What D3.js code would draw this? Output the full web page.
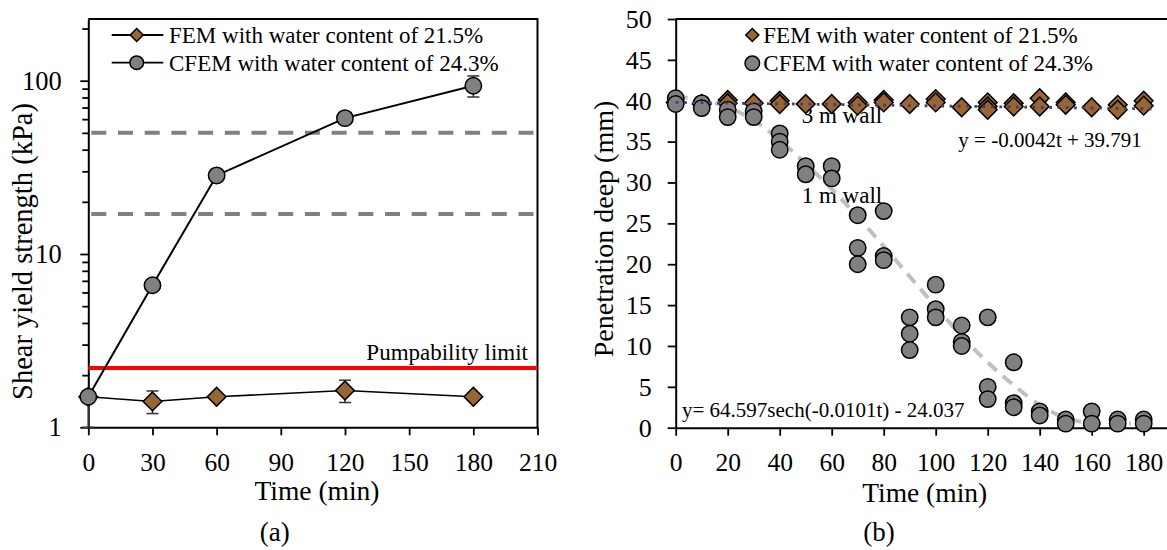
<!DOCTYPE html>
<html>
<head>
<meta charset="utf-8">
<script src="https://cdn.jsdelivr.net/npm/d3@7"></script>
<style>
  body { margin: 0; background: #fff; }
  svg { font-family: "Liberation Serif", "Times New Roman", serif; }
</style>
</head>
<body>
<script>
// ---------- (a) shear yield strength vs time ----------
var timeA = [0, 30, 60, 120, 180];
var femA = [1.5, 1.41, 1.5, 1.63, 1.5];
var femAErr = [0, 0.21, 0, 0.24, 0];
var cfemA = [1.5, 6.6, 28.4, 60.8, 93.5];
var cfemAErrLo = [0.5, 0, 0, 0, 13];
var cfemAErrHi = [0, 0, 0, 0, 13];
var refLinesA = [50, 17];
var pumpLimit = 2.2;
var xTicksA = [0, 30, 60, 90, 120, 150, 180, 210];
var yMajorA = [1, 10, 100];
var yMinorA = [2, 3, 4, 5, 6, 7, 8, 9, 20, 30, 40, 50, 60, 70, 80, 90, 200];

// ---------- (b) penetration depth vs time ----------
var femBTime = [0, 10, 20, 20, 30, 40, 40, 50, 60, 70, 70, 80, 80, 90, 100, 100, 110,
  120, 120, 120, 130, 130, 140, 140, 150, 150, 160, 170, 170, 180, 180];
var femBDepth = [39.8, 39.6, 40.1, 39.7, 39.7, 40.0, 39.6, 39.6, 39.6, 39.8, 39.4, 40.1, 39.8, 39.6, 40.2, 39.8, 39.2,
  39.8, 39.3, 38.9, 39.7, 39.3, 40.3, 39.3, 39.8, 39.5, 39.2, 39.5, 38.9, 40.0, 39.4];
var cfemBTime = [0, 0, 10, 10, 20, 20, 30, 30, 40, 40, 40, 50, 50, 60, 60, 70, 70, 70, 80, 80, 80,
  90, 90, 90, 100, 100, 100, 110, 110, 110, 120, 120, 120, 130, 130, 130, 140, 140, 150, 150,
  160, 160, 170, 170, 180, 180];
var cfemBDepth = [40.3, 39.6, 39.7, 39.1, 38.9, 38.0, 38.7, 38.0, 36, 35, 34, 32, 31, 32, 30.5, 26, 22, 20, 26.5, 21, 20.5,
  13.5, 11.5, 9.5, 17.5, 14.5, 13.5, 12.5, 10.5, 10, 13.5, 5, 3.5, 8, 3, 2.5, 2, 1.5, 1, 0.5,
  2, 0.5, 1, 0.5, 1, 0.5];
var linFitT = [0, 185];
var linFitY = [39.8, 39.0];
var curveFitT = [0, 10, 20, 30, 40, 50, 60, 70, 80, 90, 100, 110, 120, 130, 140, 150, 160, 170, 175];
var curveFitY = [40.5, 40.1, 39.2, 37.6, 35.2, 32.3, 29.2, 25.8, 22.2, 18.5, 14.8, 11.2, 8.0, 5.2, 2.8, 1.2, 0.6, 0.5, 0.5];
var xTicksB = [0, 20, 40, 60, 80, 100, 120, 140, 160, 180];
var yTicksB = [0, 5, 10, 15, 20, 25, 30, 35, 40, 45, 50];

var legendLabels = ["FEM with water content of 21.5%", "CFEM with water content of 24.3%"];

var brown = "#9a6534", grey = "#808080";
var font = "Liberation Serif, Times New Roman, serif";

var svg = d3.select("body").append("svg")
    .attr("width", 1167)
    .attr("height", 550);

var diamond = function(size) {
  return d3.symbol().type(d3.symbolSquare).size(size)();
};

function styleAxis(g, fs) {
  g.attr("font-family", font).attr("font-size", fs);
  g.selectAll("path.domain").attr("stroke-width", 2);
  g.selectAll(".tick line").attr("stroke-width", 1.8);
  g.selectAll(".tick text").attr("fill", "#000");
}

// ================= chart (a) =================
var xA = d3.scaleLinear().domain([0, 210]).range([88.3, 537.5]);
var yA = d3.scaleLog().domain([1, 227]).range([427.3, 19]);

var gA = svg.append("g");

gA.append("g")
    .attr("transform", "translate(0,427.3)")
    .call(d3.axisBottom(xA).tickValues(xTicksA).tickSizeInner(8).tickSizeOuter(0).tickPadding(17.5))
    .call(styleAxis, 25.5);

gA.append("g")
    .attr("transform", "translate(88.3,0)")
    .call(d3.axisLeft(yA).tickValues(yMinorA).tickFormat("").tickSizeInner(6).tickSizeOuter(0))
    .call(styleAxis, 26)
    .select("path.domain").remove();

gA.append("g")
    .attr("transform", "translate(88.3,0)")
    .call(d3.axisLeft(yA).tickValues(yMajorA).tickFormat(d3.format("d")).tickSizeInner(8).tickSizeOuter(0).tickPadding(18.6))
    .call(styleAxis, 26.5);

// box top/right
gA.append("path")
    .attr("d", "M" + xA(0) + "," + yA(227) + "H" + xA(210) + "V" + yA(1))
    .attr("fill", "none").attr("stroke", "#000").attr("stroke-width", 2);

// reference dashed lines
gA.selectAll(".ref").data(refLinesA).enter().append("line")
    .attr("x1", xA(0) + 1).attr("x2", xA(210))
    .attr("y1", function(d) { return yA(d); })
    .attr("y2", function(d) { return yA(d); })
    .attr("stroke", grey).attr("stroke-width", 4)
    .attr("stroke-dasharray", "15,11.7")
    .attr("stroke-dashoffset", -2);

// pumpability limit
gA.append("line")
    .attr("x1", xA(0)).attr("x2", xA(210))
    .attr("y1", yA(pumpLimit)).attr("y2", yA(pumpLimit))
    .attr("stroke", "#ff0000").attr("stroke-width", 4);
gA.append("text")
    .attr("x", 528).attr("y", 360)
    .attr("text-anchor", "end")
    .attr("font-size", 23)
    .text("Pumpability limit");

var lineA = d3.line()
    .x(function(d) { return xA(d.t); })
    .y(function(d) { return yA(d.v); });

var femData = timeA.map(function(t, i) { return {t: t, v: femA[i], lo: femA[i] - femAErr[i], hi: femA[i] + femAErr[i]}; });
var cfemData = timeA.map(function(t, i) { return {t: t, v: cfemA[i], lo: cfemA[i] - cfemAErrLo[i], hi: cfemA[i] + cfemAErrHi[i]}; });

function errorBars(g, data) {
  var eb = g.selectAll(null).data(data.filter(function(d) { return d.hi > d.lo; }))
    .enter().append("g").attr("stroke", "#333").attr("stroke-width", 1.5);
  eb.append("line")
    .attr("x1", function(d) { return xA(d.t); }).attr("x2", function(d) { return xA(d.t); })
    .attr("y1", function(d) { return yA(d.lo); }).attr("y2", function(d) { return yA(d.hi); });
  eb.append("line")
    .attr("x1", function(d) { return xA(d.t) - 6; }).attr("x2", function(d) { return xA(d.t) + 6; })
    .attr("y1", function(d) { return yA(d.lo); }).attr("y2", function(d) { return yA(d.lo); });
  eb.append("line")
    .attr("x1", function(d) { return xA(d.t) - 6; }).attr("x2", function(d) { return xA(d.t) + 6; })
    .attr("y1", function(d) { return yA(d.hi); }).attr("y2", function(d) { return yA(d.hi); });
}

errorBars(gA, femData);
gA.append("path").datum(femData)
    .attr("d", lineA).attr("fill", "none").attr("stroke", "#000").attr("stroke-width", 1.6);
gA.selectAll(".femA").data(femData).enter().append("path")
    .attr("d", diamond(175))
    .attr("transform", function(d) { return "translate(" + xA(d.t) + "," + yA(d.v) + ") rotate(45)"; })
    .attr("fill", brown).attr("stroke", "#000").attr("stroke-width", 1.5);

errorBars(gA, cfemData);
gA.append("path").datum(cfemData)
    .attr("d", lineA).attr("fill", "none").attr("stroke", "#000").attr("stroke-width", 2);
gA.selectAll(".cfemA").data(cfemData).enter().append("circle")
    .attr("cx", function(d) { return xA(d.t); })
    .attr("cy", function(d) { return yA(d.v); })
    .attr("r", 8.2)
    .attr("fill", grey).attr("stroke", "#000").attr("stroke-width", 1.5);

// legend (a)
var legA = gA.append("g");
[35, 62.7].forEach(function(y, i) {
  legA.append("line").attr("x1", 111.7).attr("x2", 163.3).attr("y1", y).attr("y2", y)
      .attr("stroke", "#000").attr("stroke-width", 1.8);
  if (i == 0) {
    legA.append("path").attr("d", diamond(85))
        .attr("transform", "translate(136.7," + y + ") rotate(45)")
        .attr("fill", brown).attr("stroke", "#000").attr("stroke-width", 1.5);
  } else {
    legA.append("circle").attr("cx", 136.7).attr("cy", y).attr("r", 6.8)
        .attr("fill", grey).attr("stroke", "#000").attr("stroke-width", 1.5);
  }
  legA.append("text").attr("x", 169).attr("y", y + 7.8)
      .attr("font-size", 23).text(legendLabels[i]);
});

gA.append("text")
    .attr("transform", "translate(32,251.5) rotate(-90)")
    .attr("text-anchor", "middle").attr("font-size", 28.5)
    .text("Shear yield strength (kPa)");
gA.append("text")
    .attr("x", 317).attr("y", 500)
    .attr("text-anchor", "middle").attr("font-size", 27.5)
    .text("Time (min)");
gA.append("text")
    .attr("x", 274.7).attr("y", 541)
    .attr("text-anchor", "middle").attr("font-size", 27)
    .text("(a)");

// ================= chart (b) =================
var xB = d3.scaleLinear().domain([0, 190]).range([675.7, 675.7 + 190 * 2.6]);
var yB = d3.scaleLinear().domain([0, 50]).range([427.7, 19]);

var gB = svg.append("g");

gB.append("g")
    .attr("transform", "translate(0,427.7)")
    .call(d3.axisBottom(xB).tickValues(xTicksB).tickSizeInner(8).tickSizeOuter(0).tickPadding(17))
    .call(styleAxis, 25.5);
gB.append("g")
    .attr("transform", "translate(675.7,0)")
    .call(d3.axisLeft(yB).tickValues(yTicksB).tickSizeInner(8).tickSizeOuter(0).tickPadding(16))
    .call(styleAxis, 26);
gB.append("line")
    .attr("x1", xB(0)).attr("x2", xB(190)).attr("y1", yB(50)).attr("y2", yB(50))
    .attr("stroke", "#000").attr("stroke-width", 2);

// annotations (under the markers)
gB.append("text").attr("x", 801.7).attr("y", 123.3).attr("font-size", 23).text("3 m wall");
gB.append("text").attr("x", 801.7).attr("y", 203.3).attr("font-size", 23).text("1 m wall");
gB.append("text").attr("x", 958.3).attr("y", 146.7).attr("font-size", 21).text("y = -0.0042t + 39.791");
gB.append("text").attr("x", 682).attr("y", 416.7).attr("font-size", 21).text("y= 64.597sech(-0.0101t) - 24.037");

var curvePts = curveFitT.map(function(t, i) { return [xB(t), yB(curveFitY[i])]; });
gB.append("path")
    .attr("d", d3.line().curve(d3.curveMonotoneX)(curvePts))
    .attr("fill", "none").attr("stroke", "#c0c0c0").attr("stroke-width", 4)
    .attr("stroke-dasharray", "12,8");

gB.selectAll(".femB").data(femBTime).enter().append("path")
    .attr("d", diamond(175))
    .attr("transform", function(t, i) { return "translate(" + xB(t) + "," + yB(femBDepth[i]) + ") rotate(45)"; })
    .attr("fill", brown).attr("stroke", "#000").attr("stroke-width", 1.5);

gB.selectAll(".cfemB").data(cfemBTime).enter().append("circle")
    .attr("cx", function(t) { return xB(t); })
    .attr("cy", function(t, i) { return yB(cfemBDepth[i]); })
    .attr("r", 8.2)
    .attr("fill", grey).attr("stroke", "#000").attr("stroke-width", 1.5);

var linPts = linFitT.map(function(t, i) { return [xB(t), yB(linFitY[i])]; });
gB.append("path")
    .attr("d", d3.line()(linPts))
    .attr("fill", "none").attr("stroke", "#4a3c70").attr("stroke-width", 2.8)
    .attr("stroke-dasharray", "2.8,5.5");

// legend (b)
gB.append("path").attr("d", diamond(85))
    .attr("transform", "translate(752.3,35) rotate(45)")
    .attr("fill", brown).attr("stroke", "#000").attr("stroke-width", 1.5);
gB.append("circle").attr("cx", 752.3).attr("cy", 63.3).attr("r", 7.3)
    .attr("fill", grey).attr("stroke", "#000").attr("stroke-width", 1.5);
gB.append("text").attr("x", 763.3).attr("y", 42.5).attr("font-size", 23).text(legendLabels[0]);
gB.append("text").attr("x", 763.3).attr("y", 70.8).attr("font-size", 23).text(legendLabels[1]);

gB.append("text")
    .attr("transform", "translate(613,229) rotate(-90)")
    .attr("text-anchor", "middle").attr("font-size", 28)
    .text("Penetration deep (mm)");
gB.append("text")
    .attr("x", 924.7).attr("y", 501.5)
    .attr("text-anchor", "middle").attr("font-size", 27.5)
    .text("Time (min)");
gB.append("text")
    .attr("x", 879).attr("y", 541)
    .attr("text-anchor", "middle").attr("font-size", 27)
    .text("(b)");
</script>
</body>
</html>
